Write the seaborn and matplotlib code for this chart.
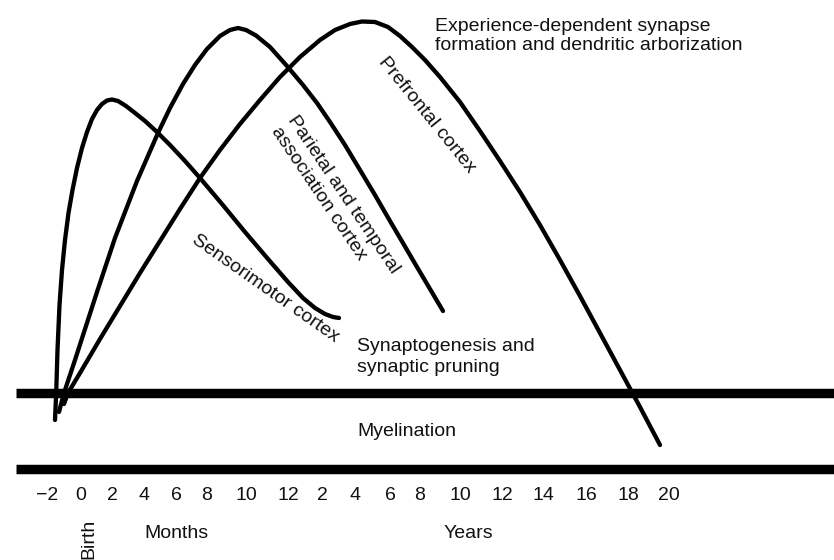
import matplotlib
matplotlib.use("Agg")
import matplotlib.pyplot as plt
import seaborn as sns
import pandas as pd

# Timeline axis: horizontal positions of the tick labels and their text
tick_pos = [47, 81, 112, 144, 176, 207, 246, 288, 322, 355, 390, 420, 460, 502, 543, 586, 628, 669]
tick_labels = ["\u22122", "0", "2", "4", "6", "8", "10", "12",
               "2", "4", "6", "8", "10", "12", "14", "16", "18", "20"]

# Development curves (x along the timeline, y measured downward from the top)
sensorimotor_x = [55, 56.2, 57.5, 59.5, 62, 65, 68.5, 72.5, 77, 82, 87, 92, 97, 102, 107, 112,
                  118, 126, 135, 145, 157, 170, 185, 200, 222, 245, 268, 288, 303, 315, 325,
                  333, 339]
sensorimotor_y = [420, 393, 350, 305, 270, 240, 213, 190, 168, 148, 132, 119, 110, 104, 100.5, 99.5,
                  101, 106, 113, 121, 132, 145, 161, 178, 204, 232, 259, 282, 298, 308, 314,
                  317, 318]

parietal_x = [59, 64, 75, 86, 97, 115, 137, 158, 170, 183, 195, 207, 220, 230, 238, 246,
              256, 270, 287, 303, 317, 330, 345, 360, 375, 390, 405, 417, 430, 443]
parietal_y = [412, 393, 360, 326, 292, 238, 181, 133, 108, 84, 65, 49, 36, 30, 28, 30,
              35.5, 47, 66, 85, 103, 122, 145, 170, 195, 221, 246.5, 267, 289, 311]

prefrontal_x = [64, 68, 80, 100, 120, 140, 160, 180, 200, 220, 240, 260, 280, 300, 320, 335,
                350, 362, 375, 388, 400, 412, 425, 440, 460, 480, 500, 520, 540, 560, 580,
                600, 620, 640, 660]
prefrontal_y = [404, 393, 373, 339, 306, 273, 241, 209, 178, 150, 124, 100, 77, 57, 40, 30,
                24, 21.5, 22, 27, 36, 47, 60, 77, 102, 131, 161, 192, 225, 260, 296,
                333, 370, 407, 445]

# Horizontal bands bounding the myelination phase
band_levels = [393, 469]
band_start, band_end = 16, 834

sns.set_theme(style="white")
plt.rcParams["font.family"] = ["Liberation Sans", "DejaVu Sans"]

curves = pd.concat([
    pd.DataFrame({"x": sensorimotor_x, "y": sensorimotor_y, "region": "Sensorimotor cortex"}),
    pd.DataFrame({"x": parietal_x, "y": parietal_y, "region": "Parietal and temporal association cortex"}),
    pd.DataFrame({"x": prefrontal_x, "y": prefrontal_y, "region": "Prefrontal cortex"}),
], ignore_index=True)

fig = plt.figure(figsize=(8.34, 5.6), dpi=100)
ax = fig.add_axes([0, 0, 1, 1])
ax.set_xlim(0, 834)
ax.set_ylim(560, 0)
ax.axis("off")

ax.hlines(band_levels, band_start, band_end, color="black", linewidth=6.8)

sns.lineplot(data=curves, x="x", y="y", units="region", estimator=None, sort=False,
             color="black", linewidth=3.1, solid_capstyle="round", solid_joinstyle="round",
             ax=ax, legend=False)

fs = 14
txt = dict(color="#111111", fontsize=fs)

for p, lab in zip(tick_pos, tick_labels):
    ax.text(p, 495, lab, ha="center", va="center", **txt)

ax.text(176, 533, "Months", ha="center", va="center", **txt)
ax.text(468, 533, "Years", ha="center", va="center", **txt)
ax.text(89, 519, "Birth", ha="center", va="top", rotation=90, **txt)

ax.text(407, 432, "Myelination", ha="center", va="center", **txt)
ax.text(357, 357, "Synaptogenesis and\nsynaptic pruning", ha="left", va="center",
        linespacing=1.25, **txt)
ax.text(435, 36, "Experience-dependent synapse\nformation and dendritic arborization",
        ha="left", va="center", linespacing=1.2, **txt)

ax.text(265, 289, "Sensorimotor cortex", ha="center", va="center", rotation=-35,
        rotation_mode="anchor", **txt)
ax.text(335, 200, "Parietal and temporal\nassociation cortex", ha="center", va="center",
        multialignment="left", rotation=-56, rotation_mode="anchor", linespacing=1.25, **txt)
ax.text(427, 115, "Prefrontal cortex", ha="center", va="center", rotation=-51,
        rotation_mode="anchor", **txt)

fig.savefig("out.png", dpi=100, facecolor="white")
